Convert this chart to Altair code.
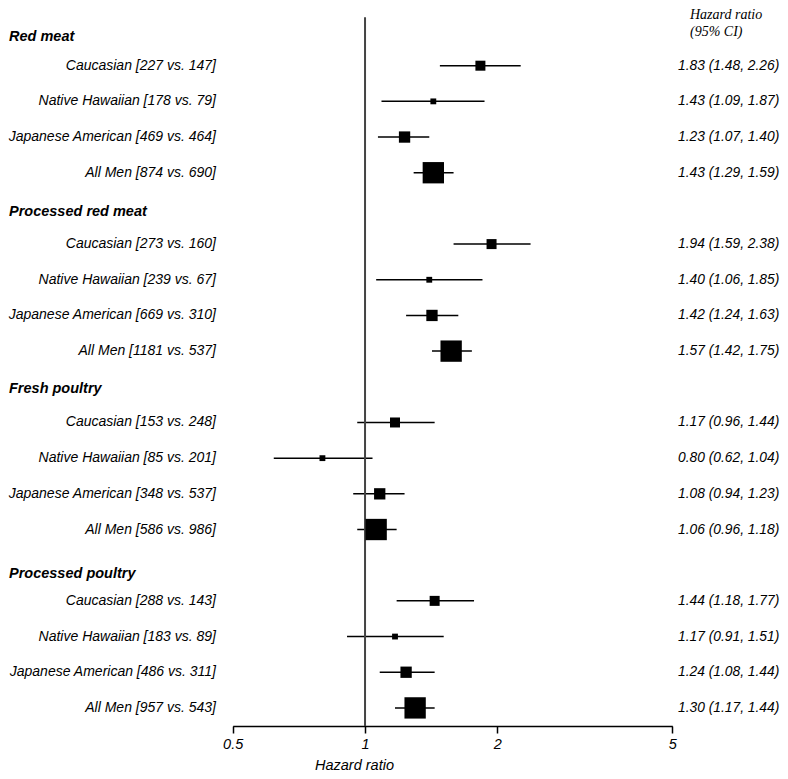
import altair as alt
import pandas as pd

# ---- data -------------------------------------------------------------
groups = ["Red meat", "Processed red meat", "Fresh poultry", "Processed poultry"]
group_rows = [0.2, 5.1, 10.05, 15.25]

populations = ["Caucasian", "Native Hawaiian", "Japanese American", "All Men"]

counts = [
    ["227 vs. 147", "178 vs. 79", "469 vs. 464", "874 vs. 690"],
    ["273 vs. 160", "239 vs. 67", "669 vs. 310", "1181 vs. 537"],
    ["153 vs. 248", "85 vs. 201", "348 vs. 537", "586 vs. 986"],
    ["288 vs. 143", "183 vs. 89", "486 vs. 311", "957 vs. 543"],
]
hr = [
    [1.83, 1.43, 1.23, 1.43],
    [1.94, 1.40, 1.42, 1.57],
    [1.17, 0.80, 1.08, 1.06],
    [1.44, 1.17, 1.24, 1.30],
]
lo = [
    [1.48, 1.09, 1.07, 1.29],
    [1.59, 1.06, 1.24, 1.42],
    [0.96, 0.62, 0.94, 0.96],
    [1.18, 0.91, 1.08, 1.17],
]
hi = [
    [2.26, 1.87, 1.40, 1.59],
    [2.38, 1.85, 1.63, 1.75],
    [1.44, 1.04, 1.23, 1.18],
    [1.77, 1.51, 1.44, 1.44],
]
tick_values = [0.5, 1, 2, 5]
null_value = [1]

# ---- tables -----------------------------------------------------------
rows = []
for g in range(len(groups)):
    for p in range(len(populations)):
        rows.append({
            "row": 5 * g + p + 1,
            "pidx": p,
            "label": f"{populations[p]} [{counts[g][p]}]",
            "hr": hr[g][p],
            "lo": lo[g][p],
            "hi": hi[g][p],
            "ci": f"{hr[g][p]:.2f} ({lo[g][p]:.2f}, {hi[g][p]:.2f})",
        })
df = pd.DataFrame(rows)
hdr = pd.DataFrame({"row": group_rows, "name": groups})
refdf = pd.DataFrame({"v": null_value, "top": [-0.36], "bot": [19.507]})

FONT = "Liberation Sans"
FS = 14.5

xscale = alt.Scale(type="log", domain=[0.5, 5], range=[224.7, 664.3], nice=False)
yscale = alt.Scale(domain=[-0.617, 19.507], reverse=True, nice=False, zero=False)

x_axis = alt.Axis(
    values=tick_values, format="~g", grid=False,
    domainColor="black", domainWidth=1.5,
    tickColor="black", tickWidth=1.5, tickSize=7,
    labelPadding=4, labelFont=FONT, labelFontStyle="italic", labelFontSize=FS,
    labelColor="black", labelFlush=False, labelOverlap=False,
    title="Hazard ratio", titleX=346, titleY=43, titleAlign="center",
    titleBaseline="alphabetic", titleFont=FONT, titleFontStyle="italic",
    titleFontWeight="normal", titleFontSize=FS, titleColor="black", titleAngle=0,
)

base = alt.Chart(df)

ci_lines = base.mark_rule(color="black", strokeWidth=1.5).encode(
    x=alt.X("lo:Q", scale=xscale, axis=x_axis, title="Hazard ratio"),
    x2="hi:Q",
    y=alt.Y("row:Q", scale=yscale, axis=None),
)

squares = base.mark_square(color="black", opacity=1).encode(
    x=alt.X("hr:Q", title="Hazard ratio"),
    y=alt.Y("row:Q"),
    size=alt.Size("pidx:Q", scale=alt.Scale(domain=[0, 1, 2, 3], range=[100, 34, 128, 455]),
                  legend=None),
)

ref = alt.Chart(refdf).mark_rule(color="#444444", strokeWidth=2).encode(
    x=alt.X("v:Q", title="Hazard ratio"),
    y=alt.Y("top:Q"),
    y2="bot:Q",
)

labels = base.mark_text(align="right", baseline="middle", font=FONT, fontStyle="italic",
                        fontSize=14, color="black").encode(
    x=alt.value(208), y=alt.Y("row:Q"), text="label:N")

ci_text = base.mark_text(align="left", baseline="middle", font=FONT, fontStyle="italic",
                         fontSize=13.8, color="black").encode(
    x=alt.value(670), y=alt.Y("row:Q"), text="ci:N")

headers = alt.Chart(hdr).mark_text(align="left", baseline="middle", font=FONT, fontStyle="italic",
                                   fontWeight="bold", fontSize=FS, color="black").encode(
    x=alt.value(1), y=alt.Y("row:Q"), text="name:N")

col_head = alt.Chart(pd.DataFrame({"t": ["Hazard ratio\n(95% CI)"]})).mark_text(
    align="left", baseline="top", font="Liberation Serif", fontStyle="italic",
    fontSize=14, lineHeight=17, lineBreak="\n", color="black").encode(
    x=alt.value(682), y=alt.value(0), text="t:N")

chart = alt.layer(ci_lines, ref, squares, labels, ci_text, headers, col_head).properties(
    width=772, height=718,
    autosize=alt.AutoSizeParams(type="none"),
    padding={"left": 0, "right": 0, "top": 0, "bottom": 45},
).configure_view(stroke=None)

chart.save("out.html", embed_options={"renderer": "svg", "actions": False})
